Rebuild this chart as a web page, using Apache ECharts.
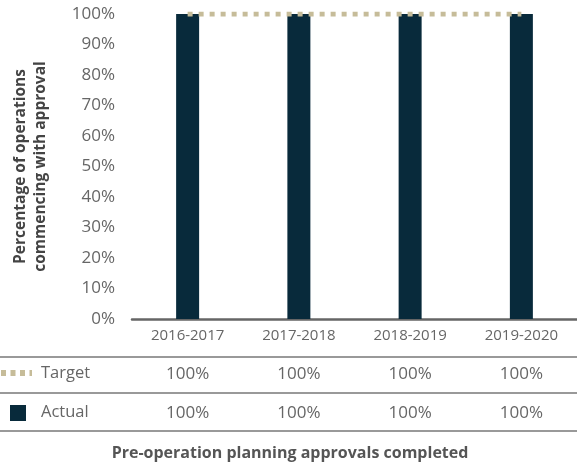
<!DOCTYPE html>
<html><head><meta charset="utf-8">
<script src="https://cdn.jsdelivr.net/npm/echarts@6/dist/echarts.min.js"></script>
<style>html,body{margin:0;padding:0;background:#fff}#c{width:577px;height:464px}</style>
</head><body><div id="c"></div>
<script>
const categories = ['2016-2017','2017-2018','2018-2019','2019-2020'];
const targetValues = [100,100,100,100];
const actualValues = [100,100,100,100];
const seriesNames = ['Target','Actual'];
const yTicks = [0,10,20,30,40,50,60,70,80,90,100];
const yAxisTitle = 'Percentage of operations\ncommencing with approval';
const chartTitle = 'Pre-operation planning approvals completed';

const FONT = '"Open Sans", sans-serif';
const TARGET_COLOR = '#c6bc99';
const BAR_COLOR = '#082a3b';
const chart = echarts.init(document.getElementById('c'));
const pct = v => v + '%';
const tableAxis = (vals, offset) => ({
  type:'category', data:categories, position:'bottom', offset:offset,
  axisLine:{show:false}, axisTick:{show:false},
  axisLabel:{color:'#666', fontSize:17, fontFamily:FONT, margin:8, formatter:(v,i)=>pct(vals[i])}
});
chart.setOption({
  animation:false,
  grid:{left:132, right:0, top:14, bottom:145, outerBoundsMode:'none', containLabel:false},
  xAxis:[
    {type:'category', data:categories,
     axisLine:{lineStyle:{color:'#666', width:2.5}}, axisTick:{show:false},
     axisLabel:{color:'#666', fontSize:15, fontFamily:FONT, margin:9}},
    tableAxis(targetValues, 39),
    tableAxis(actualValues, 78)
  ],
  yAxis:{type:'value', min:yTicks[0], max:yTicks[yTicks.length-1], interval:10,
    axisLine:{show:false}, axisTick:{show:false}, splitLine:{show:false},
    axisLabel:{color:'#666', fontSize:17, fontFamily:FONT, margin:17, formatter:v=>pct(v)},
    name:yAxisTitle, nameLocation:'middle', nameRotate:90, nameGap:81,
    nameTextStyle:{color:'#444', fontSize:15.5, fontWeight:'bold', fontFamily:FONT, lineHeight:20, padding:[0,0,0,0]}},
  series:[
    {name:seriesNames[1], type:'bar', data:actualValues, barWidth:23, itemStyle:{color:BAR_COLOR}, z:2},
    {name:seriesNames[0], type:'line', data:targetValues, symbol:'none', z:3,
     lineStyle:{color:TARGET_COLOR, width:5, type:[5,6], cap:'butt'}}
  ],
  graphic:[
    {type:'line', shape:{x1:0,y1:357,x2:577,y2:357}, style:{stroke:'#777', lineWidth:1.5}},
    {type:'line', shape:{x1:0,y1:393,x2:577,y2:393}, style:{stroke:'#777', lineWidth:1.5}},
    {type:'line', shape:{x1:0,y1:431,x2:577,y2:431}, style:{stroke:'#777', lineWidth:1.5}},
    {type:'line', shape:{x1:1,y1:373,x2:32,y2:373}, style:{stroke:TARGET_COLOR, lineWidth:6, lineDash:[5,4.5]}},
    {type:'rect', shape:{x:10,y:405,width:16,height:16}, style:{fill:BAR_COLOR}},
    {type:'text', x:41, y:373, style:{text:seriesNames[0], fill:'#666', font:'16.5px '+FONT, textVerticalAlign:'middle'}},
    {type:'text', x:41, y:412, style:{text:seriesNames[1], fill:'#666', font:'16.5px '+FONT, textVerticalAlign:'middle'}},
    {type:'text', x:290, y:453, style:{text:chartTitle, fill:'#555', font:'bold 16px '+FONT, textAlign:'center', textVerticalAlign:'middle'}}
  ]
});
</script></body></html>
